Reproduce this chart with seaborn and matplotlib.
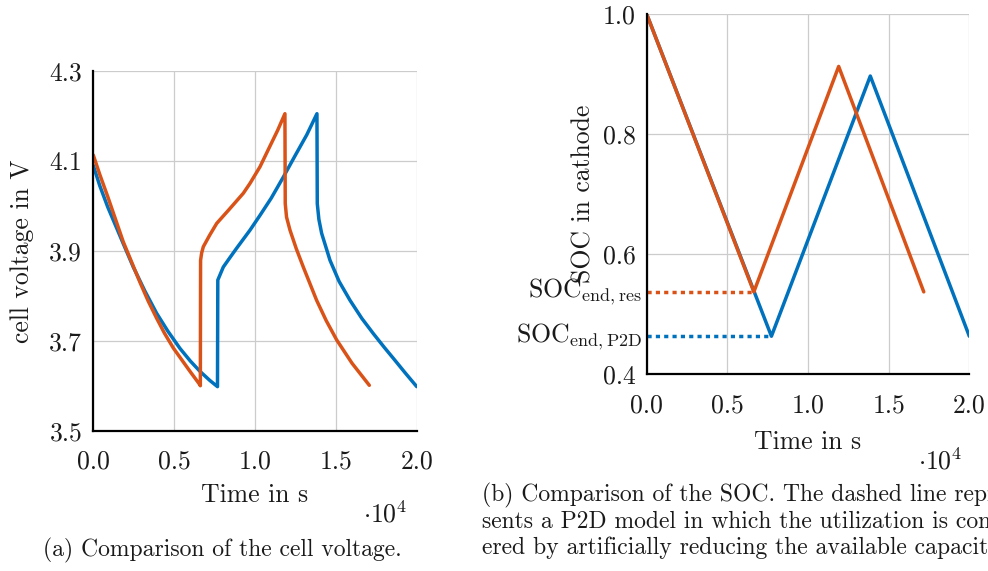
import matplotlib
matplotlib.use('Agg')
from matplotlib import pyplot as plt
import pandas as pd
import seaborn as sns

# cell voltage, P2D model (blue)
t_volt_p2d = [0, 400, 900, 1855, 2474, 3200, 3920, 4600, 5361, 6000, 6598,
              7200, 7680,
              7700, 8040, 8450, 8868, 9690, 10309, 11000, 11750, 12500,
              13200, 13830,
              13850, 13950, 14120, 14637, 15200, 15874, 16600, 17315, 18000,
              18552, 19300, 20000]
v_p2d = [4.09, 4.045, 3.997, 3.916, 3.864, 3.81, 3.761, 3.722, 3.683, 3.655,
         3.632, 3.612, 3.598,
         3.835, 3.864, 3.885, 3.906, 3.946, 3.979, 4.017, 4.064, 4.113,
         4.158, 4.205,
         4.005, 3.97, 3.939, 3.879, 3.832, 3.79, 3.75, 3.716, 3.685,
         3.661, 3.628, 3.598]

# cell voltage, reduced model (orange)
t_volt_res = [0, 400, 900, 1855, 2888, 3400, 3920, 4400, 4947, 5980, 6555,
              6620,
              6635, 6700, 6803, 7200, 7631, 8400, 9276, 9690, 10309, 10927,
              11400, 11850,
              11870, 11950, 12164, 12550, 12986, 13810, 14400, 15048, 16000,
              17068]
v_res = [4.113, 4.07, 4.02, 3.92, 3.83, 3.788, 3.75, 3.717, 3.684, 3.632,
         3.604, 3.6,
         3.879, 3.895, 3.909, 3.935, 3.961, 3.992, 4.028, 4.05, 4.087, 4.133,
         4.168, 4.205,
         4.005, 3.975, 3.946, 3.905, 3.864, 3.79, 3.745, 3.702, 3.65,
         3.601]

# SOC in cathode
t_soc_p2d = [0, 7730, 13860, 20000]
soc_p2d = [1.0, 0.463, 0.897, 0.463]
t_soc_res = [0, 6640, 11900, 17175]
soc_res = [1.0, 0.537, 0.913, 0.537]

soc_end_p2d = 0.463
soc_end_res = 0.537

x_ticks = [0, 5000, 10000, 15000, 20000]
x_labels = ['0.0', '0.5', '1.0', '1.5', '2.0']
v_ticks = [3.5, 3.7, 3.9, 4.1, 4.3]
soc_ticks = [0.4, 0.6, 0.8, 1.0]

caption_a = '(a) Comparison of the cell voltage.'
caption_b = ['(b) Comparison of the SOC. The dashed line repre-',
             'sents a P2D model in which the utilization is consid-',
             'ered by artificially reducing the available capacity.']

blue = '#0072BD'
orange = '#D95319'
ink = '#1a1a1a'
fs = 18.5

sns.set_style('whitegrid')
plt.rcParams['font.family'] = ['cmr10', 'DejaVu Serif']
plt.rcParams['mathtext.fontset'] = 'cm'
plt.rcParams['axes.formatter.use_mathtext'] = True

fig = plt.figure(figsize=(9.88, 5.71), dpi=100)
ax1 = fig.add_axes([0.0944, 0.2457, 0.3274, 0.6300])
ax2 = fig.add_axes([0.6546, 0.3450, 0.3265, 0.6300])


def line(ax, t, y, color, **kw):
    d = pd.DataFrame({'t': t, 'y': y})
    sns.lineplot(data=d, x='t', y='y', ax=ax, color=color, sort=False,
                 estimator=None, linewidth=2.5, **kw)


line(ax1, t_volt_p2d, v_p2d, blue)
line(ax1, t_volt_res, v_res, orange)

line(ax2, t_soc_p2d, soc_p2d, blue)
line(ax2, t_soc_res, soc_res, orange)
line(ax2, [0, t_soc_p2d[1]], [soc_end_p2d, soc_end_p2d], blue,
     linestyle=(0, (1.2, 1.2)))
line(ax2, [0, t_soc_res[1]], [soc_end_res, soc_end_res], orange,
     linestyle=(0, (1.2, 1.2)))

for ax, yt in [(ax1, v_ticks), (ax2, soc_ticks)]:
    ax.set_xlim(0, 20000)
    ax.set_ylim(yt[0], yt[-1])
    ax.set_xticks(x_ticks)
    ax.set_xticklabels(x_labels)
    ax.set_yticks(yt)
    ax.set_yticklabels(['%.1f' % v for v in yt])
    ax.grid(True, color='#cccccc', linewidth=0.9)
    ax.set_facecolor('white')
    for s in ['top', 'right']:
        ax.spines[s].set_visible(False)
    for s in ['left', 'bottom']:
        ax.spines[s].set_color('black')
        ax.spines[s].set_linewidth(1.6)
        ax.spines[s].set_zorder(5)
    ax.tick_params(axis='both', length=0, labelsize=fs, colors=ink)
    ax.tick_params(axis='x', pad=14)
    ax.tick_params(axis='y', pad=8)
    ax.set_xlabel('Time in s', fontsize=fs, color=ink, va='center')

ax1.xaxis.set_label_coords(0.5, -0.178)
ax2.xaxis.set_label_coords(0.5, -0.188)
ax1.text(0.902, -0.233, r'$\cdot 10^{4}$', transform=ax1.transAxes,
         ha='center', va='center', fontsize=fs, color=ink)
ax2.text(0.909, -0.244, r'$\cdot 10^{4}$', transform=ax2.transAxes,
         ha='center', va='center', fontsize=fs, color=ink)

ax1.set_ylabel('cell voltage in V', fontsize=fs, color=ink, va='center')
ax1.yaxis.set_label_coords(-0.22, 0.5)
ax2.set_ylabel('SOC in cathode', fontsize=fs, color=ink, va='center')
ax2.yaxis.set_label_coords(-0.197, 0.5)

trans = ax2.get_yaxis_transform()
ax2.text(-0.016, soc_end_res, r'SOC$_{\mathrm{end,res}}$', transform=trans,
         ha='right', va='center', fontsize=fs, color=ink)
ax2.text(-0.016, soc_end_p2d, r'SOC$_{\mathrm{end,P2D}}$', transform=trans,
         ha='right', va='center', fontsize=fs, color=ink)

fig.text(222.5 / 988, 1 - 550 / 571, caption_a,
         ha='center', va='center', fontsize=17, color=ink)
for i, txt in enumerate(caption_b):
    fig.text(482 / 988, 1 - (495 + 26.5 * i) / 571, txt,
             ha='left', va='center', fontsize=17, color=ink)

fig.savefig('out.png', dpi=100)
